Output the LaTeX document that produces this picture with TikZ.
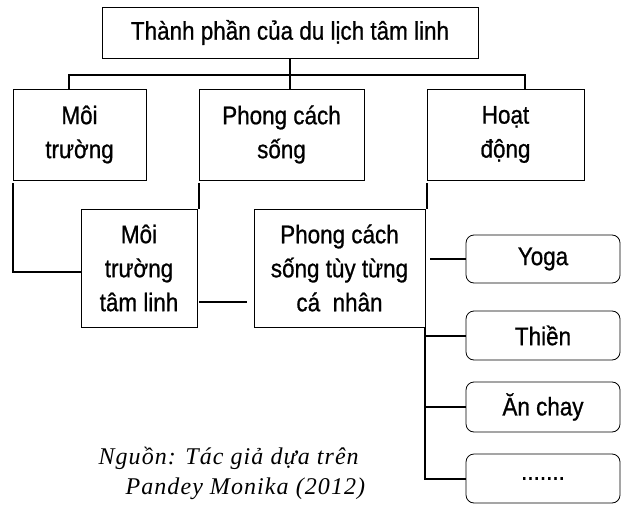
\documentclass[tikz,border=0pt]{standalone}
\usepackage{fontspec}
\setmainfont{Liberation Serif}
\newfontfamily\hopfont[FakeStretch=0.88, FakeBold=0.8]{Liberation Sans}
\newfontfamily\nguonfont[LetterSpace=4.5]{Liberation Serif}
\begin{document}
\begin{tikzpicture}[x=1pt, y=-1pt,
        hop/.style={draw, line width=0.8pt, inner sep=0pt, align=center, font=\hopfont\fontsize{25.5}{34}\selectfont},
        hoptron/.style={hop, rounded corners=8pt, minimum width=154pt},
        noi/.style={line width=2pt}]
    \useasboundingbox (0,0) rectangle (628,505);
    \node[hop, minimum width=376pt, minimum height=51pt] (tp) at (290,32.5) {Thành phần của du lịch tâm linh};
    \node[hop, minimum width=133pt, minimum height=91pt] (a1) at (79.5,134.5) {Môi\\ trường};
    \node[hop, minimum width=165pt, minimum height=91pt] (a2) at (281.5,134.5) {Phong cách\\ sống};
    \node[hop, minimum width=157pt, minimum height=91pt] (a3) at (505.5,134.5) {Hoạt\\ động};
    \node[hop, minimum width=116pt, minimum height=118pt] (b1) at (139,268) {Môi\\ trường\\ tâm linh};
    \node[hop, minimum width=171pt, minimum height=118pt] (b2) at (339.5,268) {Phong cách\\ sống tùy từng\\ cá\ \ nhân};
    \node[hoptron, minimum height=48pt] (c1) at (543,259)   {Yoga};
    \node[hoptron, minimum height=49pt] (c2) at (543,335.5) {Thiền};
    \node[hoptron, minimum height=50pt] (c3) at (543,407)   {Ăn chay};
    \node[hoptron, minimum height=49pt] (c4) at (543,478.5) {.......};
    \node[anchor=base west, align=left, font=\nguonfont\itshape\fontsize{24}{30}\selectfont] (nguon) at (95,494) {Nguồn: Tác giả dựa trên\\ \hspace*{27pt}Pandey Monika (2012)};
    \coordinate (busL) at (69,75);
    \coordinate (busR) at (525,75);
    \draw[noi] (tp.south) -- (tp.south |- a2.north);
    \draw[noi] (busL |- a1.north) -- (busL) -- (busR) -- (busR |- a3.north);
    \draw[noi] ([yshift=-3pt]a1.south west) |- ([yshift=-4pt]b1.west);
    \draw[noi] ([yshift=-3pt]a2.south west) -- (a2.south west |- b1.north);
    \draw[noi] ([yshift=-3pt]a3.south west) -- (a3.south west |- b2.north);
    \draw[noi] ([xshift=2pt,yshift=-34pt]b1.east) -- ([xshift=-7pt,yshift=-34pt]b2.west);
    \draw[noi] ([xshift=5pt]c1.west -| b2.east) -- (c1.west);
    \draw[noi] (b2.south east) |- (c4.west);
    \draw[noi] (b2.south east |- c2.west) -- (c2.west);
    \draw[noi] (b2.south east |- c3.west) -- (c3.west);
\end{tikzpicture}
\end{document}
